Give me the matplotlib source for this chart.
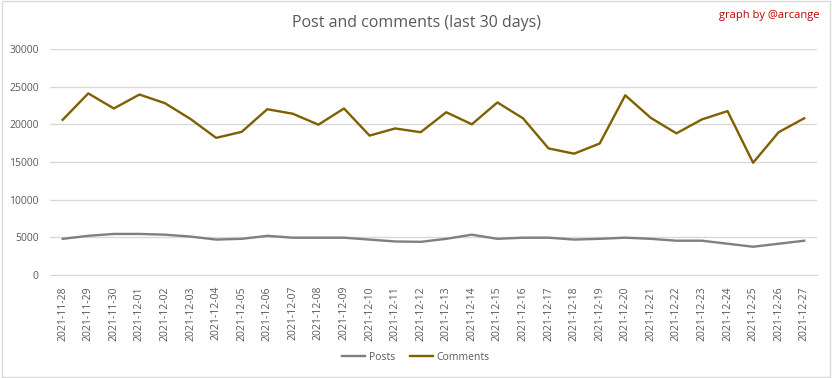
import matplotlib
matplotlib.use("Agg")
import matplotlib.pyplot as plt
from matplotlib.patches import Rectangle

dates = [
    "2021-11-28", "2021-11-29", "2021-11-30", "2021-12-01", "2021-12-02",
    "2021-12-03", "2021-12-04", "2021-12-05", "2021-12-06", "2021-12-07",
    "2021-12-08", "2021-12-09", "2021-12-10", "2021-12-11", "2021-12-12",
    "2021-12-13", "2021-12-14", "2021-12-15", "2021-12-16", "2021-12-17",
    "2021-12-18", "2021-12-19", "2021-12-20", "2021-12-21", "2021-12-22",
    "2021-12-23", "2021-12-24", "2021-12-25", "2021-12-26", "2021-12-27",
]
posts = [
    4800, 5200, 5450, 5450, 5350, 5100, 4700, 4800, 5200, 4950,
    4950, 4950, 4700, 4450, 4400, 4800, 5350, 4800, 4950, 4950,
    4700, 4800, 4950, 4800, 4550, 4550, 4150, 3750, 4150, 4550,
]
comments = [
    20600, 24100, 22100, 23950, 22800, 20700, 18200, 19000, 22000, 21400,
    19950, 22100, 18500, 19450, 18950, 21600, 20000, 22900, 20800, 16800,
    16100, 17450, 23850, 20850, 18800, 20650, 21750, 14900, 18950, 20800,
]
yticks = [0, 5000, 10000, 15000, 20000, 25000, 30000]

TEXT = "#595959"
GRID = "#D9D9D9"

plt.rcParams["font.family"] = ["Open Sans", "DejaVu Sans"]

fig = plt.figure(figsize=(8.32, 3.78), dpi=100)
ax = fig.add_axes([0.060, 0.2725, 0.922, 0.598])

x = list(range(len(dates)))
ax.plot(x, posts, color="#7F7F7F", linewidth=1.7, label="Posts")
ax.plot(x, comments, color="#7F6000", linewidth=1.7, label="Comments")

ax.set_xlim(-0.5, len(dates) - 0.5)
ax.set_ylim(0, 30000)
ax.set_yticks(yticks)
ax.set_yticklabels([str(v) for v in yticks])
ax.set_xticks(x)
ax.set_xticklabels(dates, rotation=90)
ax.tick_params(axis="both", length=0, colors=TEXT, labelsize=7.5)
ax.tick_params(axis="x", pad=8)
ax.tick_params(axis="y", pad=8)
ax.grid(axis="y", color=GRID, linewidth=1.0)
ax.set_axisbelow(True)
for s in ["top", "right", "left"]:
    ax.spines[s].set_visible(False)
ax.spines["bottom"].set_color(GRID)

fig.text(0.5, 0.94, "Post and comments (last 30 days)", ha="center", va="center",
         fontsize=11.5, color=TEXT)
fig.text(0.985, 0.96, "graph by @arcange", ha="right", va="center",
         fontsize=8, color="#C00000")

fig.legend(loc="center", bbox_to_anchor=(0.5, 0.055), ncol=2, frameon=False,
           fontsize=7.5, labelcolor=TEXT, handlelength=2.2, columnspacing=1.5,
           handletextpad=0.3)

fig.patches.append(Rectangle((0.002, 0.003), 0.996, 0.994, transform=fig.transFigure,
                             fill=False, edgecolor=GRID, linewidth=1.0))

fig.savefig("out.png", dpi=100, facecolor="white")
